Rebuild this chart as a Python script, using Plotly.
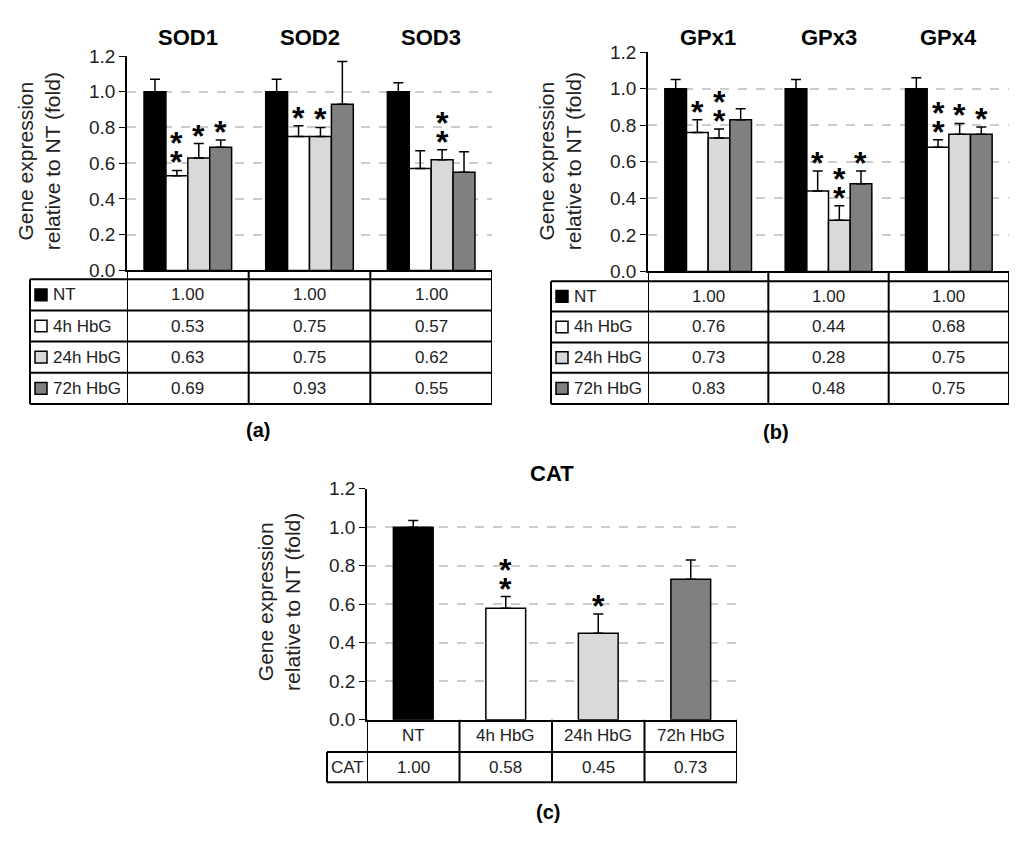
import plotly.graph_objects as go

# page gets an 8px body margin, so the figure is the window minus that
W, H = 1008, 832
OFF = 8
FONT = 'Liberation Sans, Arial, sans-serif'

treatments = ['NT', '4h HbG', '24h HbG', '72h HbG']
colors = ['#000000', '#ffffff', '#d9d9d9', '#808080']

# panel (a) - one row per treatment, one column per gene
sod_genes = ['SOD1', 'SOD2', 'SOD3']
sod_mean = [[1.00, 1.00, 1.00],
            [0.53, 0.75, 0.57],
            [0.63, 0.75, 0.62],
            [0.69, 0.93, 0.55]]
sod_err = [[0.07, 0.07, 0.05],
           [0.03, 0.06, 0.10],
           [0.08, 0.05, 0.055],
           [0.04, 0.24, 0.115]]
sod_stars = [[0, 0, 0],
             [2, 1, 0],
             [1, 1, 2],
             [1, 0, 0]]

# panel (b)
gpx_genes = ['GPx1', 'GPx3', 'GPx4']
gpx_mean = [[1.00, 1.00, 1.00],
            [0.76, 0.44, 0.68],
            [0.73, 0.28, 0.75],
            [0.83, 0.48, 0.75]]
gpx_err = [[0.05, 0.05, 0.06],
           [0.07, 0.11, 0.04],
           [0.05, 0.08, 0.06],
           [0.06, 0.07, 0.04]]
gpx_stars = [[0, 0, 0],
             [1, 1, 2],
             [2, 2, 1],
             [0, 1, 1]]

# panel (c)
cat_mean = [1.00, 0.58, 0.45, 0.73]
cat_err = [0.035, 0.06, 0.10, 0.10]
cat_stars = [0, 2, 1, 0]

y_ticks = [0.0, 0.2, 0.4, 0.6, 0.8, 1.0, 1.2]


def fx(px):
    return (px - OFF) / W


def fy(py):
    return 1 - (py - OFF) / H


fig = go.Figure()
BW = 0.18
STAR0, STAR_STEP = 8, 19
line = dict(color='black', width=2)


def note(text, x, y, xref='paper', yref='paper', size=17, **kw):
    font = dict(size=size, color=kw.pop('color', '#222'))
    if kw.pop('bold', False):
        font['weight'] = 'bold'
    fig.add_annotation(text=text, x=x, y=y, xref=xref, yref=yref, showarrow=False,
                       xanchor=kw.pop('xanchor', 'center'), yanchor=kw.pop('yanchor', 'middle'),
                       font=font, **kw)


def axis_setup(n, xa, ya, x0, x1, ytop, ybot):
    fig.layout[xa] = dict(domain=[fx(x0), fx(x1)], range=[-0.5, n - 0.5],
                          showticklabels=False, showgrid=False, zeroline=False,
                          showline=True, linecolor='black', linewidth=2,
                          anchor=ya.replace('axis', ''), fixedrange=True)
    fig.layout[ya] = dict(domain=[fy(ybot), fy(ytop)], range=[0, 1.2],
                          tickvals=y_ticks, tickformat='.1f',
                          showgrid=True, gridcolor='#cccccc', gridwidth=1.5,
                          griddash='dash', zeroline=False,
                          showline=True, linecolor='black', linewidth=1.5,
                          ticks='outside', ticklen=6, tickcolor='black',
                          tickfont=dict(size=19, color='#222'),
                          anchor=xa.replace('axis', ''), fixedrange=True)


def y_title(xpx, ypx):
    note('Gene expression<br>relative to NT (fold)', fx(xpx), fy(ypx), size=21, textangle=-90)


def star(xa, ya, x, y, k):
    note('*', x, y, xref=xa.replace('axis', ''), yref=ya.replace('axis', ''),
         size=32, color='black', bold=True, yshift=STAR0 + k * STAR_STEP)


def grouped_panel(xa, ya, genes, means, errs, stars):
    xs = list(range(len(genes)))
    for i, t in enumerate(treatments):
        fig.add_trace(go.Bar(
            x=xs, y=means[i], width=BW, offset=-2 * BW + i * BW, name=t,
            marker=dict(color=colors[i], line=dict(color='black', width=1.5)),
            error_y=dict(type='data', array=errs[i], arrayminus=[0] * len(xs),
                         symmetric=False, color='black', thickness=1.5, width=5),
            xaxis=xa.replace('axis', ''), yaxis=ya.replace('axis', ''), showlegend=False))
        for g in xs:
            for k in range(stars[i][g]):
                star(xa, ya, g - 2 * BW + (i + 0.5) * BW, means[i][g] + errs[i][g], k)


def grouped_table(xa, genes, means, left, right, ybot, rows):
    xr = xa.replace('axis', '')
    n = len(genes)
    # band under the axis + columns
    for g in range(n + 1):
        fig.add_shape(type='line', xref=xr, yref='paper', x0=g - 0.5, x1=g - 0.5,
                      y0=fy(ybot), y1=fy(rows[-1]), line=line)
    fig.add_shape(type='line', xref='paper', yref='paper', x0=fx(left), x1=fx(left),
                  y0=fy(rows[0]), y1=fy(rows[-1]), line=line)
    for r in rows:
        fig.add_shape(type='line', xref='paper', yref='paper', x0=fx(left), x1=fx(right),
                      y0=fy(r), y1=fy(r), line=line)
    for i, t in enumerate(treatments):
        yc = (rows[i] + rows[i + 1]) / 2
        fig.add_shape(type='rect', xref='paper', yref='paper',
                      x0=fx(left + 5), x1=fx(left + 17), y0=fy(yc + 6), y1=fy(yc - 6),
                      fillcolor=colors[i], line=dict(color='black', width=1.5))
        note(t, fx(left + 21), fy(yc), xanchor='left')
        for g in range(n):
            note(f'{means[i][g]:.2f}', g, fy(yc), xref=xr)
    for g, name in enumerate(genes):
        note(name, g, fy(28), xref=xr, size=22, color='black', bold=True)


# (a)
axis_setup(3, 'xaxis', 'yaxis', 127, 492, 47, 267)
grouped_panel('xaxis', 'yaxis', sod_genes, sod_mean, sod_err, sod_stars)
grouped_table('xaxis', sod_genes, sod_mean, 30, 492, 267, [276, 308, 340, 372, 404])
y_title(39, 155)

# (b)
axis_setup(3, 'xaxis2', 'yaxis2', 648, 1009, 43, 268)
grouped_panel('xaxis2', 'yaxis2', gpx_genes, gpx_mean, gpx_err, gpx_stars)
grouped_table('xaxis2', gpx_genes, gpx_mean, 551, 1009, 268, [278, 309, 341, 372, 404])
y_title(560, 155)

# (c)
axis_setup(4, 'xaxis3', 'yaxis3', 367, 737, 491, 728)
cx = list(range(4))
fig.add_trace(go.Bar(
    x=cx, y=cat_mean, width=0.43,
    marker=dict(color=colors, line=dict(color='black', width=1.5)),
    error_y=dict(type='data', array=cat_err, arrayminus=[0] * 4, symmetric=False,
                 color='black', thickness=1.5, width=5),
    xaxis='x3', yaxis='y3', showlegend=False))
for i in cx:
    for k in range(cat_stars[i]):
        star('xaxis3', 'yaxis3', i, cat_mean[i] + cat_err[i], k)
for g in range(5):
    fig.add_shape(type='line', xref='x3', yref='paper', x0=g - 0.5, x1=g - 0.5,
                  y0=fy(728), y1=fy(792), line=line)
fig.add_shape(type='line', xref='paper', yref='paper', x0=fx(327), x1=fx(327),
              y0=fy(761), y1=fy(792), line=line)
for r in [761, 792]:
    fig.add_shape(type='line', xref='paper', yref='paper', x0=fx(327), x1=fx(737),
                  y0=fy(r), y1=fy(r), line=line)
for i, t in enumerate(treatments):
    note(t, i, fy(744.5), xref='x3')
    note(f'{cat_mean[i]:.2f}', i, fy(776.5), xref='x3')
note('CAT', fx(347), fy(776.5))
note('CAT', 1.5, fy(475), xref='x3', size=22, color='black', bold=True)
y_title(279, 607)

# panel letters
for lab, px, py in [('(a)', 258, 431), ('(b)', 776, 433), ('(c)', 548, 823)]:
    note(lab, fx(px), fy(py), size=20, color='black', bold=True)

fig.update_layout(width=W, height=H, margin=dict(l=0, r=0, t=0, b=0),
                  plot_bgcolor='white', paper_bgcolor='white',
                  barmode='overlay', font=dict(family=FONT, color='#222'))

fig.write_html("out.html")
